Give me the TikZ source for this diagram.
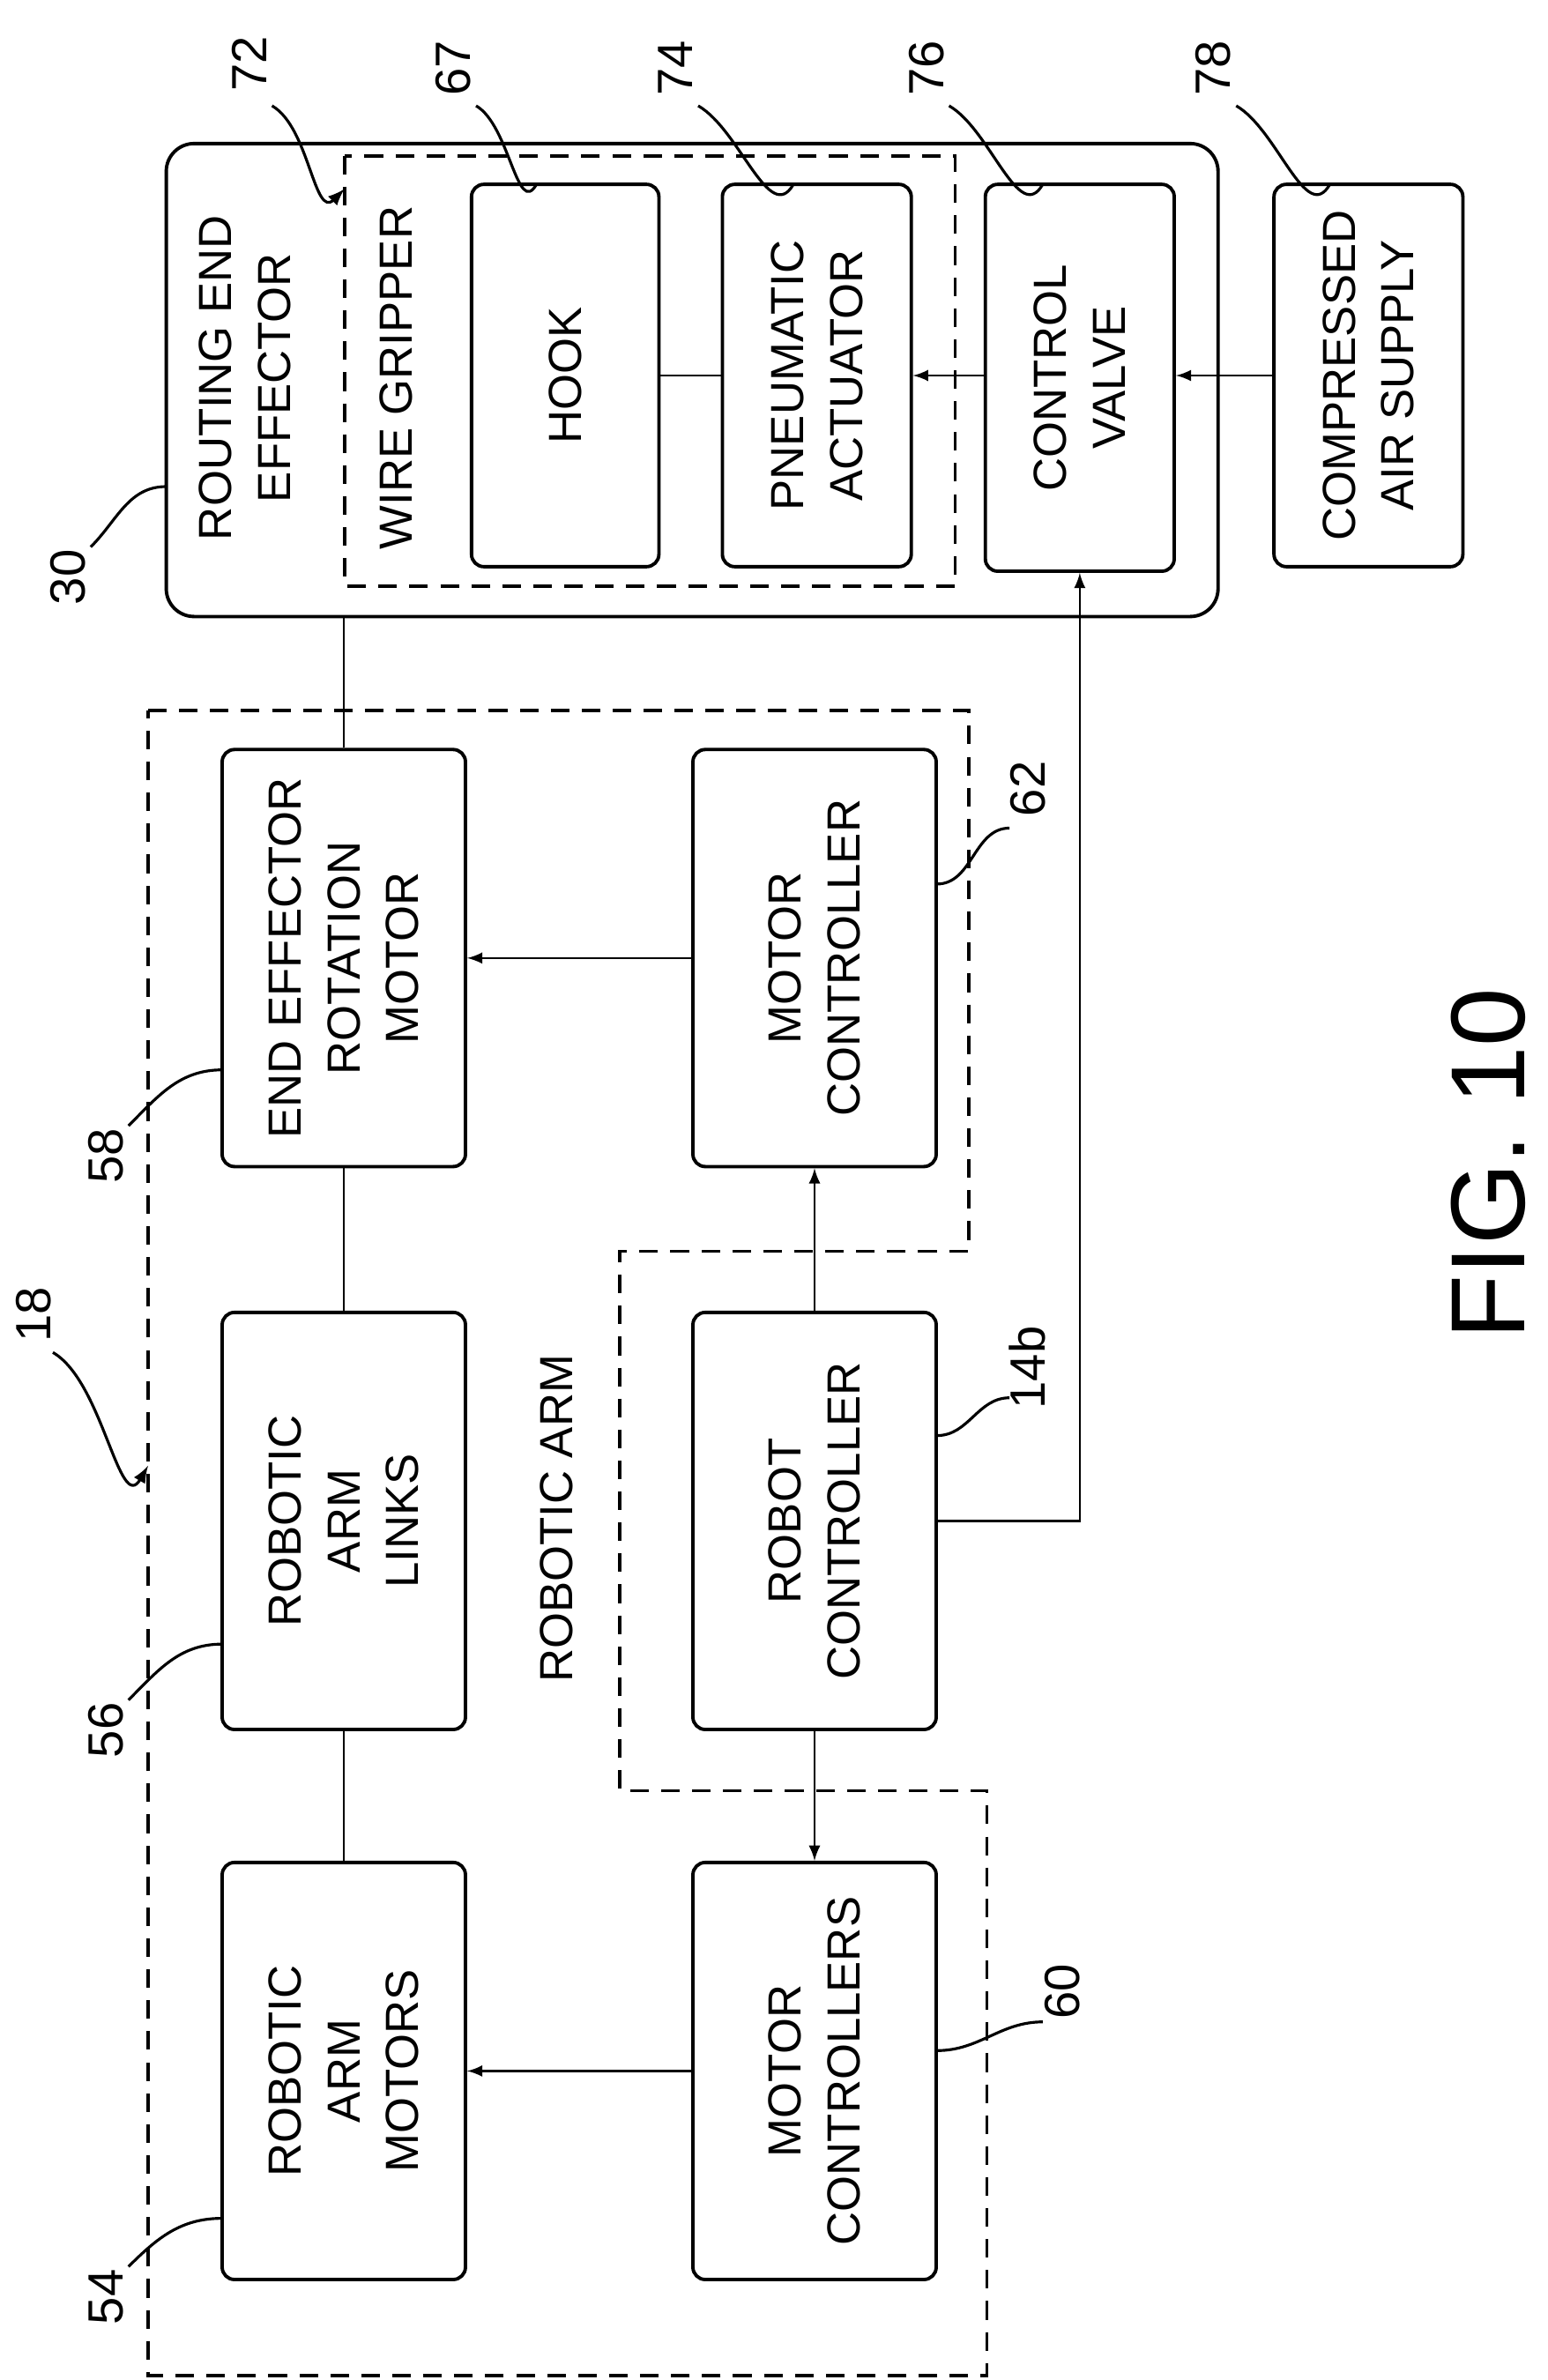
\documentclass[tikz,border=0pt]{standalone}
\usepackage{fontspec}
\setmainfont{Liberation Sans}
\usetikzlibrary{positioning}

\begin{document}
\begin{tikzpicture}[x=0.01715cm, y=-0.01715cm,
    box/.style={draw, rounded corners=4pt, line width=1.1pt, rotate=90, align=center,
                font=\fontsize{15}{19}\selectfont, inner sep=2pt},
    txt/.style={rotate=90, align=center, font=\fontsize{15}{19}\selectfont},
    num/.style={rotate=90, font=\fontsize{16}{20}\selectfont},
    lead/.style={line width=0.9pt},
    dashline/.style={dash pattern=on 6pt off 4pt},
    >=latex
  ]
  \useasboundingbox (0,0) rectangle (1024,1575);

  % routing end effector
  \node[box, rounded corners=9pt, minimum width=313*0.01715cm, minimum height=696*0.01715cm] (ree) at (458,251.5) {};
  \node[txt] (reetxt) at (162,250) {ROUTING END\\EFFECTOR};
  \node[box, dashline, rounded corners=0pt, minimum width=285*0.01715cm, minimum height=404*0.01715cm] (grip) at (430,245.5) {};
  \node[txt] (griptxt) at (262,250) {WIRE GRIPPER};
  \node[box, minimum width=253*0.01715cm, minimum height=124*0.01715cm] (hook) at (374,248.5) {HOOK};
  \node[box, minimum width=253*0.01715cm, minimum height=125*0.01715cm] (pneu) at (540.5,248.5) {PNEUMATIC\\ACTUATOR};
  \node[box, minimum width=256*0.01715cm, minimum height=125*0.01715cm] (valve) at (714.5,250) {CONTROL\\VALVE};
  \node[box, minimum width=253*0.01715cm, minimum height=125*0.01715cm] (air) at (905.5,248.5) {COMPRESSED\\AIR SUPPLY};

  % robotic arm
  \draw[dashline, line width=1.1pt] (98,470) -- (641,470) -- (641,828) -- (410,828) -- (410,1185)
    -- (653,1185) -- (653,1572) -- (98,1572) -- cycle;
  \node[txt] (armtxt) at (368,1005) {ROBOTIC ARM};
  \node[box, minimum width=276*0.01715cm, minimum height=161*0.01715cm] (eerm) at (227.5,634) {END EFFECTOR\\ROTATION\\MOTOR};
  \node[box, minimum width=276*0.01715cm, minimum height=161*0.01715cm] (mc62) at (539,634) {MOTOR\\CONTROLLER};
  \node[box, minimum width=276*0.01715cm, minimum height=161*0.01715cm] (links) at (227.5,1006.5) {ROBOTIC\\ARM\\LINKS};
  \node[box, minimum width=276*0.01715cm, minimum height=161*0.01715cm] (rc) at (539,1006.5) {ROBOT\\CONTROLLER};
  \node[box, minimum width=276*0.01715cm, minimum height=161*0.01715cm] (motors) at (227.5,1370.5) {ROBOTIC\\ARM\\MOTORS};
  \node[box, minimum width=276*0.01715cm, minimum height=161*0.01715cm] (mc60) at (539,1370.5) {MOTOR\\CONTROLLERS};

  % connectors
  \draw[line width=0.7pt] (hook) -- (pneu);
  \draw[->, line width=0.7pt] (valve.north |- pneu.center) -- (pneu.south);
  \draw[->, line width=0.7pt] (air.north) -- (valve.south |- air.north);
  \draw[line width=0.7pt] (eerm.east) -- (eerm.east |- ree.west);
  \draw[->, line width=0.7pt] (mc62) -- (eerm);
  \draw[line width=0.7pt] (eerm) -- (links);
  \draw[line width=0.7pt] (links) -- (motors);
  \draw[->, line width=0.7pt] (rc) -- (mc62);
  \draw[->, line width=0.7pt] (rc) -- (mc60);
  \draw[->, line width=0.7pt] (mc60) -- (motors);
  \draw[->, line width=0.7pt] (rc.south) -| (valve.west);

  % reference numerals
  \node[num] (n72) at (165,42) {72};
  \node[num] (n67) at (300,45) {67};
  \node[num] (n74) at (447,45) {74};
  \node[num] (n76) at (613,45) {76};
  \node[num] (n78) at (803,45) {78};
  \node[num] (n30) at (45,382) {30};
  \node[num] (n18) at (22,870) {18};
  \node[num] (n58) at (70,765) {58};
  \node[num] (n56) at (70,1145) {56};
  \node[num] (n54) at (70,1520) {54};
  \node[num] (n62) at (680,522) {62};
  \node[num] (n14b) at (680,905) {14b};
  \node[num] (n60) at (703,1318) {60};

  \coordinate (c72) at (180,70);
  \coordinate (c67) at (315,70);
  \coordinate (c74) at (462,70);
  \coordinate (c76) at (628,70);
  \coordinate (c78) at (818,70);
  \coordinate (c30) at (60,362);
  \coordinate (c18) at (35,895);
  \coordinate (c58) at (85,745);
  \coordinate (c56) at (85,1125);
  \coordinate (c54) at (85,1500);
  \coordinate (c62) at (668,548);
  \coordinate (c14b) at (668,925);
  \coordinate (c60) at (690,1338);

  \draw[->, lead] (c72) to[out=-30, in=-135] (228,125);
  \draw[lead] (c67) to[out=-30, in=-120] (355,122);
  \draw[lead] (c74) to[out=-30, in=-120] (525,122);
  \draw[lead] (c76) to[out=-30, in=-120] (690,122);
  \draw[lead] (c78) to[out=-30, in=-120] (880,122);
  \draw[lead] (c30) to[out=45, in=180] (110,322);
  \draw[->, lead] (c18) to[out=-30, in=-120] (98,970);
  \draw[lead] (c58) to[out=45, in=180] (147,708);
  \draw[lead] (c56) to[out=45, in=180] (147,1088);
  \draw[lead] (c54) to[out=45, in=180] (147,1468);
  \draw[lead] (c62) to[out=180, in=0] (620,585);
  \draw[lead] (c14b) to[out=180, in=0] (620,950);
  \draw[lead] (c60) to[out=180, in=0] (620,1357);

  \node[rotate=90, font=\fontsize{34}{40}\selectfont] (fig) at (985,770) {FIG. 10};
\end{tikzpicture}
\end{document}
